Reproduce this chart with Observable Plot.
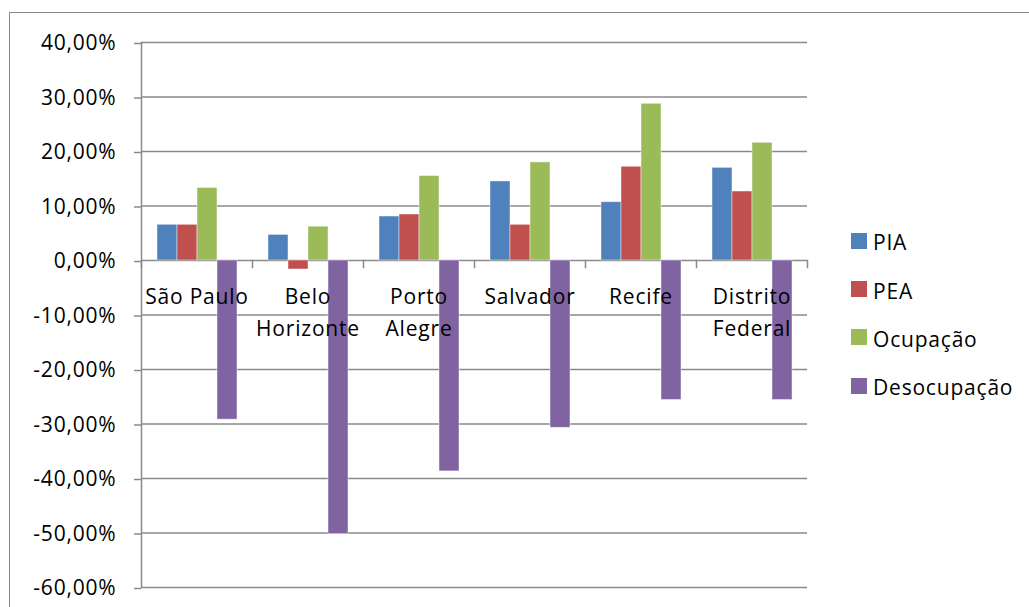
<!DOCTYPE html>
<html>
<head>
<meta charset="utf-8">
<script src="https://cdn.jsdelivr.net/npm/d3@7"></script>
<script src="https://cdn.jsdelivr.net/npm/@observablehq/plot@0.6"></script>
<style>
  html, body { margin: 0; padding: 0; background: #fff; overflow: hidden; }
  #wrap { position: relative; width: 1029px; height: 607px; overflow: hidden; font-family: "Open Sans", sans-serif; }
  #border { position: absolute; left: 9px; top: 12px; width: 1100px; height: 700px; border: 1.5px solid #8a8a8a; box-sizing: border-box; }
  #chart { position: absolute; left: 0; top: 0; }
  #chart svg text { letter-spacing: 0.8px; }
  #legend { position: absolute; left: 851px; top: 218px; }
  .item { display: flex; align-items: center; height: 48.4px; font-size: 21px; letter-spacing: 0.8px; color: #000; }
  .sw { width: 16px; height: 16px; margin-right: 6px; margin-top: -3px; }
</style>
</head>
<body>
<div id="wrap">
  <div id="border"></div>
  <div id="chart"></div>
  <div id="legend"></div>
</div>
<script>
// Regiões metropolitanas e variação de cada indicador
const categories = ["São Paulo", "Belo Horizonte", "Porto Alegre", "Salvador", "Recife", "Distrito Federal"];
const categoryLabels = ["São Paulo", "Belo\nHorizonte", "Porto\nAlegre", "Salvador", "Recife", "Distrito\nFederal"];
const series = ["PIA", "PEA", "Ocupação", "Desocupação"];
const colors = ["#4F81BD", "#C0504D", "#9BBB59", "#8064A2"];

const pia         = [0.0655, 0.047, 0.0807, 0.145, 0.107, 0.170];
const pea         = [0.0655, -0.0165, 0.0844, 0.0655, 0.172, 0.1266];
const ocupacao    = [0.133, 0.062, 0.155, 0.180, 0.2875, 0.216];
const desocupacao = [-0.292, -0.502, -0.387, -0.307, -0.256, -0.256];

const yTicks = [0.4, 0.3, 0.2, 0.1, 0, -0.1, -0.2, -0.3, -0.4, -0.5, -0.6];

const seriesValues = [pia, pea, ocupacao, desocupacao];
const rows = [];
categories.forEach((c, i) => {
  series.forEach((s, j) => rows.push({regiao: c, serie: s, valor: seriesValues[j][i]}));
});
const labelRows = categories.map((c, i) => ({regiao: c, label: categoryLabels[i]}));

const W = 1029, H = 607;
const margin = {top: 42, right: 221, bottom: 20, left: 140};
const yDomain = [-0.6, 0.4];
// mirror of the y scale, used to place the short category separators below zero
const yPos = d3.scaleLinear(yDomain, [H - margin.bottom, margin.top]);
const tickLen = 7;
const sepTop = yPos(0) - margin.top;
const sepBottom = (H - margin.bottom) - (yPos(0) + tickLen);

const fmt = v => (v * 100).toFixed(2).replace(".", ",") + "%";
const gray = "#8a8a8a";

const chart = Plot.plot({
  width: W,
  height: H,
  marginTop: margin.top,
  marginRight: margin.right,
  marginBottom: margin.bottom,
  marginLeft: margin.left,
  style: {fontFamily: "Open Sans, sans-serif", fontSize: "21px", color: "#000", background: "transparent", overflow: "visible"},
  fx: {domain: categories, paddingInner: 0, paddingOuter: 0, axis: null, label: null},
  x: {domain: series, paddingInner: 0, paddingOuter: 0.75, axis: null, label: null},
  y: {domain: yDomain, axis: null, label: null},
  color: {domain: series, range: colors},
  marks: [
    Plot.gridY(yTicks, {stroke: gray, strokeOpacity: 1, strokeWidth: 1.5}),
    Plot.frame({anchor: "left", stroke: gray, strokeWidth: 1.5, insetTop: sepTop, insetBottom: sepBottom}),
    Plot.frame({anchor: "right", stroke: gray, strokeWidth: 1.5, insetTop: sepTop, insetBottom: sepBottom, facetAnchor: "right"}),
    Plot.frame({anchor: "left", stroke: gray, strokeWidth: 1.5, facetAnchor: "left"}),
    Plot.axisY({ticks: yTicks, tickFormat: fmt, tickSize: tickLen, tickPadding: 18, dy: 1, stroke: gray, strokeWidth: 1.5, fill: "#000", label: null}),
    Plot.barY(rows, {fx: "regiao", x: "serie", y: "valor", fill: "serie", stroke: "#fff", strokeWidth: 0.8, strokeOpacity: 0.55}),
    Plot.text(labelRows, {fx: "regiao", y: () => 0, text: "label", lineAnchor: "top", dy: 21, lineHeight: 1.52, fill: "#000", fontSize: 21})
  ]
});
document.getElementById("chart").appendChild(chart);

// legend
const legend = document.getElementById("legend");
series.forEach((s, i) => {
  const item = document.createElement("div");
  item.className = "item";
  const sw = document.createElement("span");
  sw.className = "sw";
  sw.style.background = colors[i];
  const t = document.createElement("span");
  t.textContent = s;
  item.appendChild(sw);
  item.appendChild(t);
  legend.appendChild(item);
});
</script>
</body>
</html>
